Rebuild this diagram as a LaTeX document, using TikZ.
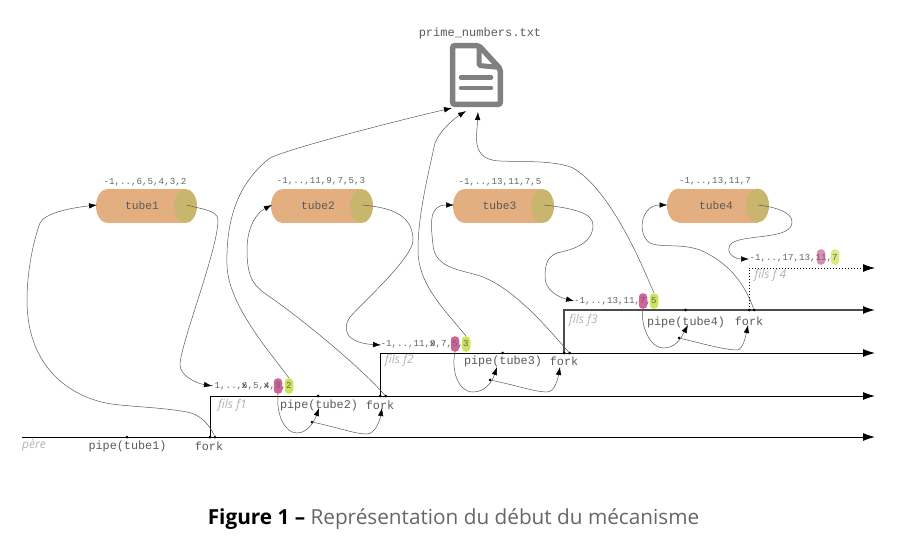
\documentclass[tikz,border=0pt]{standalone}
\usepackage{fontspec}
\setmainfont{Open Sans}
\setmonofont{Liberation Mono}
\usetikzlibrary{arrows.meta}
\definecolor{tubebody}{HTML}{E3AF81}
\definecolor{tubecap}{HTML}{C8B66F}
\definecolor{pillm}{HTML}{D0649A}
\definecolor{pilll}{HTML}{CFE35A}
\definecolor{icon}{HTML}{808080}
\newcommand{\xd}[1]{\rlap{\kern-0.3pt\textcolor{black!75}{x}}#1}
\tikzset{
  x=1pt,y=-1pt,
  timeline/.style={line width=1pt,black,-{Latex[length=12pt,width=8pt]}},
  curve/.style={line width=0.5pt,black!65,-{Latex[length=8pt,width=5.5pt,black]}},
  dotm/.style={circle,fill=black,inner sep=0pt,minimum size=3pt},
  tubelabel/.style={inner sep=0pt,text=black!65,font=\ttfamily\fontsize{11.3}{12}\selectfont},
  code/.style={inner sep=0pt,text=black!65,font=\ttfamily\fontsize{11.8}{13}\selectfont},
  vals/.style={inner sep=0pt,text=black!60,font=\ttfamily\fontsize{9.17}{10}\selectfont},
  proc/.style={inner sep=0pt,text=black!30,font=\itshape\fontsize{12}{13}\selectfont},
  pillm/.style={shape=rectangle,rounded corners=3.9pt,fill=pillm,minimum width=8.5pt,minimum height=15.5pt,inner sep=0pt},
  pilll/.style={shape=rectangle,rounded corners=3.9pt,fill=pilll,minimum width=8.5pt,minimum height=15.5pt,inner sep=0pt},
}
\begin{document}
\begin{tikzpicture}
\useasboundingbox (0,0) rectangle (924,551);
% coordinates of the timelines
\coordinate (p0) at (22,437);  \coordinate (p1) at (875,437);
\coordinate (f1a) at (210,437); \coordinate (f1b) at (210,396); \coordinate (f1e) at (875,396);
\coordinate (f2a) at (380,396); \coordinate (f2b) at (380,353); \coordinate (f2e) at (875,353);
\coordinate (f3a) at (564,353); \coordinate (f3b) at (564,310); \coordinate (f3e) at (875,310);
\coordinate (f4a) at (749,310); \coordinate (f4b) at (749,268); \coordinate (f4e) at (875,268);
\draw[timeline] (p0) -- (p1);
\draw[timeline] (f1a) -- (f1b) -- (f1e);
\draw[timeline] (f2a) -- (f2b) -- (f2e);
\draw[timeline,line width=1.4pt,black!70,-{Latex[length=12pt,width=8pt,black]}] (f3a) -- (f3b) -- (f3e);
\draw[timeline,dotted,line width=0.8pt] (f4a) -- (f4b) -- (f4e);
% tubes: left end, right end of the body, vertical centre
\foreach \l/\r/\c in {96/197/206,271/373/206,453/554/206,667/769/205.5}{
  \fill[tubebody] (\l+11.5,\c) ellipse [x radius=11.5pt,y radius=17pt];
  \fill[tubebody] (\l+11.5,\c-17) rectangle (\r-11.5,\c+17);
  \fill[tubecap] (\r-11.5,\c) ellipse [x radius=11.5pt,y radius=17pt];
}
\node[tubelabel] (tube1) at (142,205.5) {tube1};
\node[tubelabel] (tube2) at (318,205.5) {tube2};
\node[tubelabel] (tube3) at (499.5,205) {tube3};
\node[tubelabel] (tube4) at (716,205.5) {tube4};
\coordinate (cap1) at (187,205); \coordinate (cap2) at (362,205);
\coordinate (cap3) at (544,205); \coordinate (cap4) at (758,205);
\coordinate (in1) at (97,205); \coordinate (in2) at (272,205);
\coordinate (in3) at (454,205); \coordinate (in4) at (667.5,205);
\node[vals] (q1) at (145,182) {-1,..,6,5,4,3,2};
\node[vals] (q2) at (321,181.5) {-1,..,11,9,7,5,3};
\node[vals] (q3) at (500,182) {-1,..,13,11,7,5};
\node[vals] (q4) at (715,181) {-1,..,13,11,7};
% file
\node[code,font=\ttfamily\fontsize{12}{13}\selectfont] (file) at (480,33) {prime\_numbers.txt};
\coordinate (fileA) at (452,108); \coordinate (fileB) at (466,111); \coordinate (fileC) at (478,112);
\draw[icon,line width=5.5pt,rounded corners=2pt,fill=white]
  (452.7,45.7) -- (479,45.7) -- (500.3,69) -- (500.3,104.3) -- (452.7,104.3) -- cycle;
\draw[icon,line width=5pt,rounded corners=1.5pt] (479,46) -- (479,65.5) -- (500.3,67.5);
\draw[icon,line width=4.5pt,line cap=round] (461,77.5) -- (491,77.5) (461,88) -- (491,88);
% pills
\node[pillm] (m1) at (278,386) {}; \node[pilll] (l1) at (289,386) {};
\node[pillm] (m2) at (455,344) {}; \node[pilll] (l2) at (466,344) {};
\node[pillm] (m3) at (643,301) {}; \node[pilll] (l3) at (654,301) {};
\node[pillm,opacity=.75] (m4) at (821,257) {}; \node[pilll,opacity=.75] (l4) at (835,257) {};
\node[vals,anchor=east] (v1) at (291.75,386) {-1,..,\xd{6},5,\xd{4},3,2};
\node[vals,anchor=east] (v2) at (468.75,344) {-1,..,11,\xd{9},7,5,3};
\node[vals,anchor=east] (v3) at (656.75,301) {-1,..,13,11,7,5};
\node[vals,anchor=east] (v4) at (837.75,258) {-1,..,17,13,11,7};
\coordinate (v1in) at (212,386); \coordinate (v2in) at (381,345);
\coordinate (v3in) at (574,301); \coordinate (v4in) at (749,259);
% labels
\node[proc,anchor=west] (pere) at (22,445) {père};
\node[proc,anchor=west] (lf1) at (218,405) {fils f1};
\node[proc,anchor=west] (lf2) at (385,360) {fils f2};
\node[proc,anchor=west] (lf3) at (569,320) {fils f3};
\node[proc,anchor=west] (lf4) at (754.5,275) {fils f 4};
\node[code] (pipe1) at (127.5,446) {pipe(tube1)};
\node[code] (fork0) at (209,446.5) {fork};
\node[code] (pipe2) at (319,405) {pipe(tube2)};
\node[code] (fork1) at (380,405) {fork};
\node[code] (pipe3) at (503,361) {pipe(tube3)};
\node[code] (fork2) at (564,361) {fork};
\node[code] (pipe4) at (686,322) {pipe(tube4)};
\node[code] (fork3) at (749,321) {fork};
% dots on the timelines
\foreach \n/\x/\y in {a/127/437,b/210/437,c/215/437,d/318/396,e/380/396,f/385.5/396,
  g/502.5/353,h/564/353,i/569.5/353,j/685.5/310,k/749/310,l/754/310,
  q/312/422,r/490/380,s/679/338}
  \node[dotm] (dot\n) at (\x,\y) {};
% curves
\draw[curve] (dotc) .. controls (207,420) and (197,414) .. (187,412)
  .. controls (165,408) and (140,407) .. (120,405)
  .. controls (80,402) and (27,375) .. (27,300)
  .. controls (27,275) and (32,245) .. (40,223)
  .. controls (45,213) and (70,208) .. (in1);
\draw[curve] (cap1) .. controls (200,209) and (218,210) .. (218,220)
  .. controls (218,250) and (180,345) .. (180,365)
  .. controls (180,375) and (195,383) .. (v1in);
\draw[curve] (l1.north) .. controls (270,352) and (228,305) .. (227,265)
  .. controls (226,225) and (235,185) .. (270,158)
  .. controls (290,148) and (400,120) .. (fileA);
\draw[curve] (m1.south) .. controls (276,415) and (285,433) .. (297,433)
  .. controls (308,433) and (315,420) .. (319,408);
\draw[curve] (dotq) .. controls (340,428) and (355,434) .. (367,434)
  .. controls (375,434) and (380,420) .. (382,408);
\draw[curve] (dotf) .. controls (365,372) and (310,325) .. (270,297)
  .. controls (255,287) and (247,280) .. (247,250)
  .. controls (247,225) and (258,212) .. (in2);
\draw[curve] (cap2) .. controls (385,207) and (413,212) .. (413,240)
  .. controls (413,258) and (360,305) .. (350,317)
  .. controls (342,328) and (345,343) .. (v2in);
\draw[curve] (l2.north) .. controls (445,310) and (418,285) .. (418,250)
  .. controls (418,215) and (428,175) .. (435,143)
  .. controls (440,130) and (455,118) .. (fileB);
\draw[curve] (m2.south) .. controls (451,370) and (458,392) .. (473,392)
  .. controls (485,392) and (492,382) .. (497,367);
\draw[curve] (dotr) .. controls (515,385) and (535,392) .. (547,392)
  .. controls (555,392) and (558,378) .. (560,367);
\draw[curve] (doti) .. controls (545,325) and (515,290) .. (483,277)
  .. controls (465,270) and (435,270) .. (433,245)
  .. controls (431,225) and (428,205) .. (in3);
\draw[curve] (cap3) .. controls (570,208) and (593,212) .. (593,225)
  .. controls (593,245) and (570,250) .. (557,253)
  .. controls (547,257) and (545,265) .. (545,277)
  .. controls (545,290) and (558,297) .. (v3in);
\draw[curve] (l3.north) .. controls (640,260) and (610,190) .. (573,168)
  .. controls (555,160) and (520,162) .. (500,161)
  .. controls (470,160) and (477,135) .. (fileC);
\draw[curve] (m3.south) .. controls (640,325) and (650,348) .. (663,348)
  .. controls (675,348) and (680,340) .. (688,325);
\draw[curve] (dots) .. controls (700,343) and (725,350) .. (737,350)
  .. controls (743,350) and (746,335) .. (748,325);
\draw[curve] (dotl) .. controls (745,285) and (730,263) .. (700,250)
  .. controls (680,243) and (660,248) .. (650,243)
  .. controls (637,235) and (640,205) .. (in4);
\draw[curve] (cap4) .. controls (775,207) and (792,212) .. (792,222)
  .. controls (792,240) and (745,234) .. (732,243)
  .. controls (724,250) and (732,259) .. (v4in);
% caption
\node[inner sep=0pt,text=black!60,font=\fontsize{20.75}{24}\selectfont] (caption) at (453.5,519)
  {\textcolor{black}{\bfseries Figure 1 –} Représentation du début du mécanisme};
\end{tikzpicture}
\end{document}
